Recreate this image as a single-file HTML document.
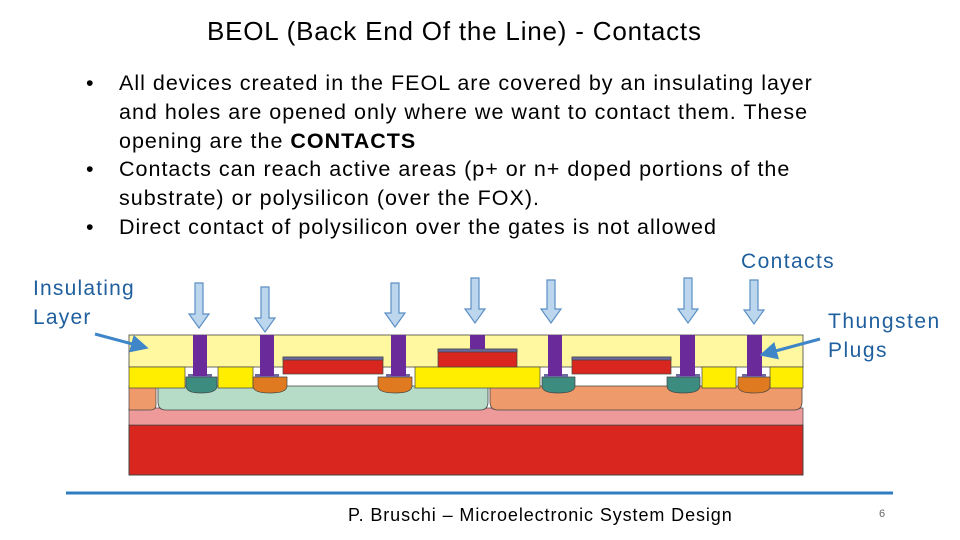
<!DOCTYPE html>
<html><head><meta charset="utf-8"><style>
body{margin:0;width:960px;height:540px;background:#fff;position:relative;overflow:hidden;font-family:"Liberation Sans",sans-serif}
.t{position:absolute;white-space:nowrap}
.b{font-size:21.5px;color:#000;line-height:29px;letter-spacing:1px}
.lbl{font-size:21px;color:#1f5f9e;line-height:29px;letter-spacing:1.4px}
</style></head><body>
<div class="t" style="left:207px;top:16px;font-size:26px;letter-spacing:0.8px">BEOL (Back End Of the Line) - Contacts</div>
<div class="t b" style="left:86px;top:69px">•</div>
<div class="t b" style="left:119px;top:69px">All devices created in the FEOL are covered by an insulating layer<br>and holes are opened only where we want to contact them. These<br>opening are the <b>CONTACTS</b></div>
<div class="t b" style="left:86px;top:155px">•</div>
<div class="t b" style="left:119px;top:155px">Contacts can reach active areas (p+ or n+ doped portions of the<br>substrate) or polysilicon (over the FOX).</div>
<div class="t b" style="left:86px;top:213px">•</div>
<div class="t b" style="left:119px;top:213px">Direct contact of polysilicon over the gates is not allowed</div>
<div class="t lbl" style="left:741px;top:247px">Contacts</div>
<div class="t lbl" style="left:33px;top:274px;letter-spacing:1.2px">Insulating<br>Layer</div>
<div class="t lbl" style="left:828px;top:307px;letter-spacing:1.5px">Thungsten<br>Plugs</div>
<svg width="960" height="540" style="position:absolute;left:0;top:0">
<defs><marker id="ah" markerWidth="6" markerHeight="6" refX="3" refY="3" orient="auto"><path d="M0,0L6,3L0,6z" fill="#3f86c8"/></marker></defs>
<rect x="129" y="425" width="674" height="50" fill="#d9261e" stroke="#444"/>
<rect x="129" y="408" width="674" height="17" fill="#ee9a9a" stroke="#444" stroke-width="0.7"/>
<path d="M129,386 H156 V405 Q156,410 150,410 H129Z" fill="#ef9a6a" stroke="#444" stroke-width="0.7"/>
<path d="M158,386 H488 V402 Q488,410 480,410 H166 Q158,410 158,402Z" fill="#b6dcc8" stroke="#444" stroke-width="0.8"/>
<path d="M490,386 H802 V402 Q802,410 794,410 H498 Q490,410 490,402Z" fill="#ef9a6a" stroke="#444" stroke-width="0.8"/>
<rect x="129" y="335" width="674" height="32" fill="#fff8a0" stroke="#444" stroke-width="0.8"/>
<g fill="#ffee00" stroke="#444" stroke-width="0.7">
<rect x="129" y="367" width="56" height="21"/><rect x="218" y="367" width="35" height="21"/>
<rect x="415" y="367" width="125" height="21"/><rect x="702" y="367" width="34" height="21"/><rect x="770" y="367" width="33" height="21"/>
</g>
<g stroke="#444" stroke-width="0.7">
<path d="M186,377 H217 V386 Q217,393 201,393 Q186,393 186,386Z" fill="#3d8c80"/>
<path d="M253,377 H287 V386 Q287,393 270,393 Q253,393 253,386Z" fill="#e07a20"/>
<path d="M378,377 H412 V386 Q412,393 395,393 Q378,393 378,386Z" fill="#e07a20"/>
<path d="M542,377 H575 V386 Q575,393 558,393 Q542,393 542,386Z" fill="#3d8c80"/>
<path d="M667,377 H700 V386 Q700,393 683,393 Q667,393 667,386Z" fill="#3d8c80"/>
<path d="M738,377 H770 V386 Q770,393 754,393 Q738,393 738,386Z" fill="#e07a20"/>
</g>
<g stroke="#444" stroke-width="0.7">
<rect x="283" y="357" width="100" height="17" fill="#d9261e"/><rect x="283" y="357" width="100" height="3" fill="#6a6aa0"/>
<rect x="438" y="349" width="79" height="18" fill="#d9261e"/><rect x="438" y="349" width="79" height="3" fill="#6a6aa0"/>
<rect x="572" y="357" width="99" height="17" fill="#d9261e"/><rect x="572" y="357" width="99" height="3" fill="#6a6aa0"/>
</g>
<g fill="#6a6aa0"><rect x="188" y="374" width="24" height="3"/><rect x="255" y="374" width="24" height="3"/><rect x="386" y="374" width="24" height="3"/><rect x="544" y="374" width="24" height="3"/><rect x="676" y="374" width="24" height="3"/><rect x="742" y="374" width="24" height="3"/></g>
<g fill="#6a2a9a">
<rect x="193" y="335" width="14" height="41"/><rect x="260" y="335" width="14" height="41"/><rect x="391" y="335" width="15" height="41"/>
<rect x="548" y="335" width="14" height="41"/><rect x="680" y="335" width="15" height="41"/><rect x="747" y="335" width="15" height="41"/>
<rect x="470" y="335" width="15" height="14"/>
</g>
<g fill="#bcd6ee" stroke="#5b8fc4" stroke-width="1.2">
<path d="M195,283 H203 V314 H209 L199,328 L189,314 H195Z"/>
<path d="M261,287 H269 V318 H275 L265,332 L255,318 H261Z"/>
<path d="M391,283 H399 V313 H405 L395,327 L385,313 H391Z"/>
<path d="M471,278 H479 V309 H485 L475,323 L465,309 H471Z"/>
<path d="M547,280 H555 V309 H561 L551,323 L541,309 H547Z"/>
<path d="M684,278 H692 V309 H698 L688,323 L678,309 H684Z"/>
<path d="M750,280 H758 V310 H764 L754,324 L744,310 H750Z"/>
</g>
<line x1="95" y1="334" x2="140" y2="346" stroke="#3f86c8" stroke-width="3" marker-end="url(#ah)"/>
<line x1="820" y1="339" x2="768" y2="353" stroke="#3f86c8" stroke-width="3" marker-end="url(#ah)"/>
<line x1="66" y1="493" x2="893" y2="493" stroke="#2e7dc0" stroke-width="3"/>
</svg>
<div class="t" style="left:348px;top:505px;font-size:18px;letter-spacing:0.9px">P. Bruschi – Microelectronic System Design</div>
<div class="t" style="left:879px;top:508px;font-size:11px;color:#666">6</div>
</body></html>
